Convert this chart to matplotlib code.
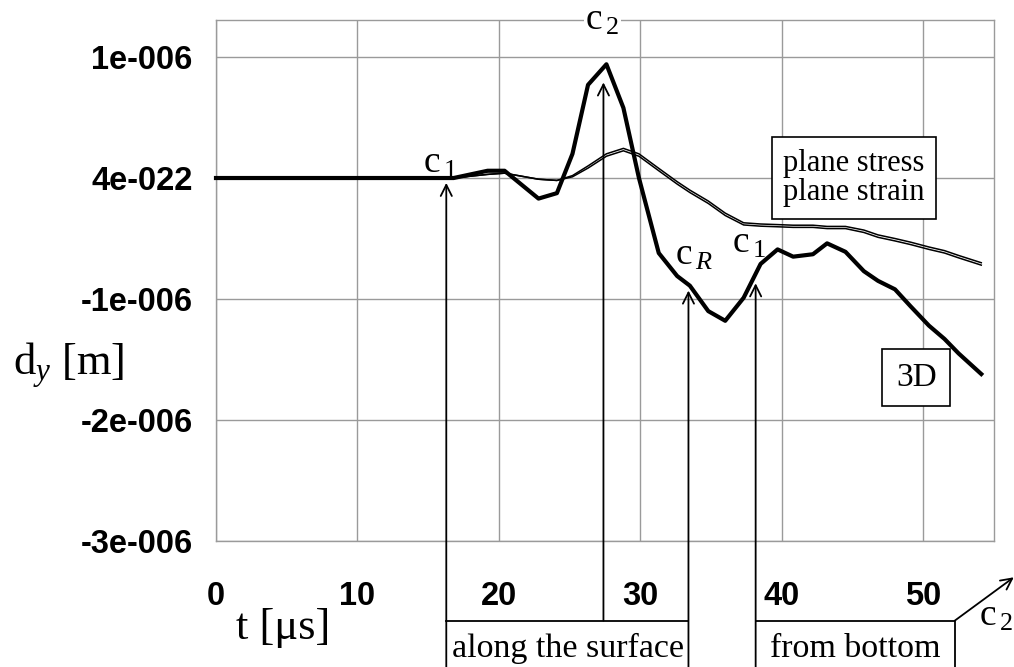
import matplotlib
matplotlib.use("Agg")
import matplotlib.pyplot as plt
import numpy as np

plt.rcParams['mathtext.fontset'] = 'custom'
plt.rcParams['mathtext.rm'] = 'Liberation Serif'
plt.rcParams['mathtext.it'] = 'Liberation Serif:italic'

# time axis [us] and vertical displacement [um]
t = [0, 16.8, 19.2, 20.4, 22.8, 24.1, 25.2, 26.3, 27.6, 28.8, 29.9, 31.3, 32.6, 33.5,
     34.8, 36.0, 37.3, 38.5, 39.7, 40.8, 42.2, 43.2, 44.5, 45.8, 46.8, 48.0, 49.1,
     50.4, 51.5, 52.5, 54.1]
dy_3d = [0, 0, 0.06, 0.06, -0.17, -0.125, 0.2, 0.77, 0.94, 0.58, 0.0, -0.62, -0.81, -0.89,
         -1.1, -1.18, -0.99, -0.71, -0.59, -0.65, -0.63, -0.54, -0.61, -0.77, -0.85, -0.92, -1.06,
         -1.22, -1.33, -1.45, -1.62]
dy_stress = [0, 0, 0.03, 0.04, -0.01, -0.02, 0.02, 0.1, 0.2, 0.245, 0.2, 0.08, -0.03, -0.1,
             -0.19, -0.29, -0.37, -0.38, -0.385, -0.39, -0.39, -0.4, -0.4, -0.43, -0.47, -0.5, -0.53,
             -0.57, -0.6, -0.64, -0.7]
dy_strain = [0, 0, 0.03, 0.04, -0.01, -0.02, 0.01, 0.082, 0.18, 0.225, 0.18, 0.06, -0.05, -0.12,
             -0.21, -0.31, -0.388, -0.398, -0.403, -0.408, -0.408, -0.418, -0.418, -0.45, -0.49, -0.52, -0.55,
             -0.59, -0.62, -0.66, -0.72]

yticks = [-3e-6, -2e-6, -1e-6, 0, 1e-6]
ytick_labels = ['-3e-006', '-2e-006', '-1e-006', '4e-022', '1e-006']
xticks = [0, 10, 20, 30, 40, 50]

# wave arrival times [us] and the displacement the arrows point at [m]
arrivals = {'c1': (16.28, -0.04e-6), 'c2': (27.39, 0.79e-6),
            'cR': (33.40, -0.93e-6), 'c1b': (38.15, -0.87e-6)}

t = np.array(t)
um = 1e-6

fig = plt.figure(figsize=(10.14, 6.67), dpi=100)
ax = fig.add_axes([216 / 1014, 1 - 541 / 667, 778 / 1014, 521 / 667])
ax.set_xlim(0, 55)
ax.set_ylim(-3e-6, 1.306e-6)

gray = '#9a9a9a'
ax.grid(True, color=gray, lw=1.0)
ax.set_axisbelow(True)
for s in ax.spines.values():
    s.set_color(gray)
    s.set_linewidth(1.0)

ax.set_xticks(xticks)
ax.set_yticks(yticks)
ax.set_yticklabels(ytick_labels)
ax.tick_params(length=0, labelsize=23.5)
ax.tick_params(axis='y', pad=17)
ax.tick_params(axis='x', pad=29)
for lb in ax.get_xticklabels() + ax.get_yticklabels():
    lb.set_fontfamily('Liberation Sans')
    lb.set_fontweight('bold')

ax.plot(t, np.array(dy_stress) * um, color='k', lw=1.1)
ax.plot(t, np.array(dy_strain) * um, color='k', lw=1.1)
ax.plot(t, np.array(dy_3d) * um, color='k', lw=3.0, solid_capstyle='projecting',
        clip_on=False, zorder=5)

serif = 'Liberation Serif'
fig.text(69 / 1014, 1 - 365 / 667, 'd$_y$ [m]', family=serif, fontsize=32,
         ha='center', va='center')
fig.text(283 / 1014, 1 - 628 / 667, 't [\u03bcs]', family=serif, fontsize=32,
         ha='center', va='center')

arrow = dict(arrowstyle='->', lw=1.3, color='k', shrinkA=0, shrinkB=0, mutation_scale=20)
y_box = -3.658e-6
y_low = -4.3e-6
for key, (ta, ya) in arrivals.items():
    start = y_box if key == 'c2' else y_low
    ax.annotate('', xy=(ta, ya), xytext=(ta, start), arrowprops=arrow,
                annotation_clip=False, zorder=6)

# boxes under the time axis
ax.plot([arrivals['c1'][0], arrivals['cR'][0]], [y_box, y_box], color='k', lw=1.3, clip_on=False)
ax.plot([arrivals['c1b'][0], 52.23, 52.23], [y_box, y_box, y_low], color='k', lw=1.3, clip_on=False)
ax.annotate('', xy=(56.4, -3.30e-6), xytext=(52.23, y_box), arrowprops=arrow,
            annotation_clip=False)

ax.text(24.85, -3.89e-6, 'along the surface', family=serif, fontsize=24.5,
        ha='center', va='center', clip_on=False)
ax.text(45.2, -3.89e-6, 'from bottom', family=serif, fontsize=24.5,
        ha='center', va='center', clip_on=False)

lab = dict(family=serif, fontsize=27, ha='center', va='center', clip_on=False)
ax.text(15.8, 0.12e-6, 'c$_{\\,1}$', **lab)
ax.text(27.3, 1.30e-6, 'c$_{\\,2}$', bbox=dict(fc='white', ec='none', pad=1), **lab)
ax.text(33.8, -0.64e-6, 'c$_{\\,R}$', **lab)
ax.text(37.7, -0.54e-6, 'c$_{\\,1}$', **lab)
ax.text(55.1, -3.62e-6, 'c$_{\\,2}$', **lab)

ax.text(45.1, 0.0, 'plane stress\nplane strain', family=serif, fontsize=22,
        ha='center', va='center', linespacing=1.0, zorder=7,
        bbox=dict(boxstyle='square,pad=0.38', fc='white', ec='k', lw=1.2))
ax.text(49.5, -1.65e-6, '3D', family=serif, fontsize=24, ha='center', va='center',
        zorder=7, bbox=dict(boxstyle='square,pad=0.4', fc='white', ec='k', lw=1.2))

fig.savefig('out.png', dpi=100)
